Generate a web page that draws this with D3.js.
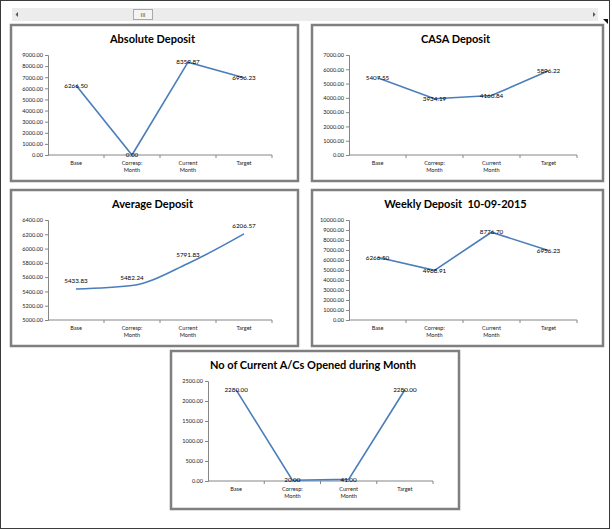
<!DOCTYPE html>
<html>
<head>
<meta charset="utf-8">
<script src="https://cdnjs.cloudflare.com/ajax/libs/d3/7.8.5/d3.min.js"></script>
<style>
  body { margin: 0; background: #fff; }
  text { font-family: Lato, "Open Sans", sans-serif; }
  .title { white-space: pre; }
</style>
</head>
<body>
<div id="chart"></div>
<script>
var categories = ['Base', 'Corresp:\nMonth', 'Current\nMonth', 'Target'];

var absoluteDeposit = [6266.50, 0.00, 8359.87, 6956.23];
var casaDeposit = [5407.55, 3934.19, 4160.84, 5896.22];
var averageDeposit = [5433.83, 5482.24, 5791.83, 6206.57];
var weeklyDeposit = [6266.50, 4968.91, 8776.70, 6956.23];
var currentAcs = [2280.00, 20.00, 41.00, 2280.00];

var absoluteTicks = d3.range(0, 9001, 1000);
var casaTicks = d3.range(0, 7001, 1000);
var averageTicks = d3.range(5000, 6401, 200);
var weeklyTicks = d3.range(0, 10001, 1000);
var acsTicks = d3.range(0, 2501, 500);

var width = 612, height = 530;
var lineColor = '#4a7ebb';
var axisColor = '#868686';

var svg = d3.select('#chart').append('svg')
    .attr('width', width)
    .attr('height', height);

// outer frame
svg.append('rect')
    .attr('x', 0.5).attr('y', 0.5)
    .attr('width', 609).attr('height', 528)
    .attr('fill', 'none')
    .attr('stroke', '#3a3a3a');

// scrollbar strip along the top
var bar = svg.append('g');
bar.append('rect')
    .attr('x', 12).attr('y', 8)
    .attr('width', 586).attr('height', 13)
    .attr('fill', '#ececec');
bar.append('rect')
    .attr('x', 133.5).attr('y', 9.5)
    .attr('width', 19).attr('height', 10)
    .attr('fill', '#f4f4f4')
    .attr('stroke', '#a9a9a9');
bar.append('text')
    .attr('x', 143).attr('y', 17)
    .attr('text-anchor', 'middle')
    .attr('font-size', 6)
    .attr('fill', '#555')
    .text('III');
bar.append('path')
    .attr('d', 'M18,12 L15.5,14.5 L18,17 Z')
    .attr('fill', '#555');
bar.append('path')
    .attr('d', 'M593,12 L595.5,14.5 L593,17 Z')
    .attr('fill', '#555');
bar.append('path')
    .attr('d', 'M603,19 L608,19 L608,24 Z')
    .attr('fill', '#111');

var charts = [
    {title: 'Absolute Deposit', values: absoluteDeposit, ticks: absoluteTicks, x: 11, y: 25, w: 287, h: 156, labelPos: 'center'},
    {title: 'CASA Deposit', values: casaDeposit, ticks: casaTicks, x: 312, y: 25, w: 291, h: 156, labelPos: 'center'},
    {title: 'Average Deposit', values: averageDeposit, ticks: averageTicks, x: 11, y: 190, w: 287, h: 156, labelPos: 'above', smooth: true},
    {title: 'Weekly Deposit  10-09-2015', values: weeklyDeposit, ticks: weeklyTicks, x: 312, y: 190, w: 291, h: 156, labelPos: 'center'},
    {title: 'No of Current A/Cs Opened during Month', values: currentAcs, ticks: acsTicks, x: 171, y: 351, w: 288, h: 158, labelPos: 'center'}
];

charts.forEach(drawChart);

function drawChart(c) {
    var g = svg.append('g')
        .attr('transform', 'translate(' + c.x + ',' + c.y + ')');

    g.append('rect')
        .attr('x', 0).attr('y', 0)
        .attr('width', c.w).attr('height', c.h)
        .attr('fill', '#fff')
        .attr('stroke', '#7f7f7f')
        .attr('stroke-width', 2.5);

    g.append('text')
        .attr('class', 'title')
        .attr('x', c.w / 2 - 2)
        .attr('y', 18)
        .attr('text-anchor', 'middle')
        .attr('font-size', 11)
        .attr('font-weight', 'bold')
        .attr('fill', '#000')
        .text(c.title);

    var left = 37, top = 30;
    var plotW = c.w - 63, plotH = 100;

    var x = d3.scaleBand()
        .domain(categories)
        .range([left, left + plotW]);

    var y = d3.scaleLinear()
        .domain([c.ticks[0], c.ticks[c.ticks.length - 1]])
        .range([top + plotH, top]);

    // y axis
    var yAxis = g.append('g')
        .attr('transform', 'translate(' + left + ',0)')
        .call(d3.axisLeft(y).tickValues(c.ticks).tickSize(3).tickFormat(d3.format('.2f')));
    yAxis.select('.domain').attr('stroke', axisColor);
    yAxis.selectAll('.tick line').attr('stroke', axisColor);
    yAxis.selectAll('.tick text')
        .attr('font-family', 'Lato, "Open Sans", sans-serif')
        .attr('font-size', 5.6)
        .attr('fill', '#222')
        .attr('x', -5);

    // x axis with ticks at category boundaries
    var xAxis = g.append('g')
        .attr('transform', 'translate(0,' + (top + plotH) + ')');
    xAxis.append('line')
        .attr('x1', left).attr('x2', left + plotW)
        .attr('stroke', axisColor);
    xAxis.selectAll('line.tk')
        .data(categories)
        .enter().append('line')
        .attr('class', 'tk')
        .attr('x1', function(d) { return x(d) + x.bandwidth(); })
        .attr('x2', function(d) { return x(d) + x.bandwidth(); })
        .attr('y1', 0).attr('y2', 3)
        .attr('stroke', axisColor);

    xAxis.selectAll('text.cat')
        .data(categories)
        .enter().append('text')
        .attr('class', 'cat')
        .attr('text-anchor', 'middle')
        .attr('font-size', 5.6)
        .attr('fill', '#222')
        .each(function(d) {
            var t = d3.select(this);
            d.split('\n').forEach(function(line, i) {
                t.append('tspan')
                    .attr('x', x(d) + x.bandwidth() / 2)
                    .attr('y', 10 + i * 7)
                    .text(line);
            });
        });

    var line = d3.line()
        .x(function(d, i) { return x(categories[i]) + x.bandwidth() / 2; })
        .y(function(d) { return y(d); });
    if (c.smooth) line.curve(d3.curveMonotoneX);

    g.append('path')
        .datum(c.values)
        .attr('d', line)
        .attr('fill', 'none')
        .attr('stroke', lineColor)
        .attr('stroke-width', 1.6);

    g.selectAll('text.lbl')
        .data(c.values)
        .enter().append('text')
        .attr('class', 'lbl')
        .attr('x', function(d, i) { return x(categories[i]) + x.bandwidth() / 2; })
        .attr('y', function(d) { return c.labelPos === 'above' ? y(d) - 6 : y(d) + 2.2; })
        .attr('text-anchor', 'middle')
        .attr('font-size', 6.3)
        .attr('fill', '#000')
        .text(function(d) { return d3.format('.2f')(d); });
}
</script>
</body>
</html>
